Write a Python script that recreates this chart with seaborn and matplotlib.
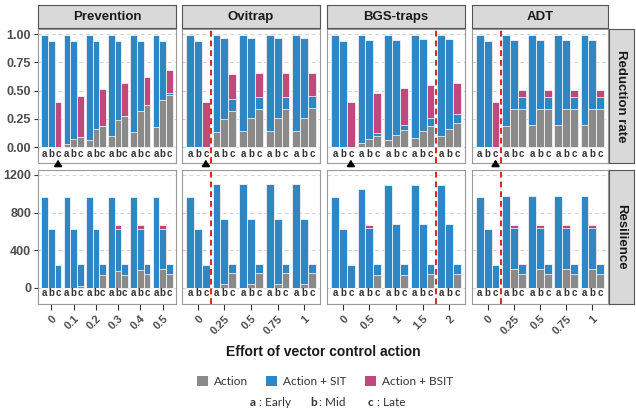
import numpy as np
import pandas as pd
import matplotlib
matplotlib.use("Agg")
import matplotlib.pyplot as plt
from matplotlib.patches import Rectangle
import seaborn as sns

# ---------------- data ----------------
panels = ["Prevention", "Ovitrap", "BGS-traps", "ADT"]
rows = ["Reduction rate", "Resilience"]
timings = ["a", "b", "c"]

efforts = {
    "Prevention": ["0", "0.1", "0.2", "0.3", "0.4", "0.5"],
    "Ovitrap": ["0", "0.25", "0.5", "0.75", "1"],
    "BGS-traps": ["0", "0.5", "1", "1.5", "2"],
    "ADT": ["0", "0.25", "0.5", "0.75", "1"],
}

# Reduction rate -------------------------------------------------
red_prev_action = {"a": [0, 0.025, 0.065, 0.10, 0.135, 0.18],
                   "b": [0, 0.075, 0.16, 0.24, 0.32, 0.42],
                   "c": [0, 0.09, 0.185, 0.275, 0.37, 0.46]}
red_prev_sit = {"a": [0.99] * 6, "b": [0.94] * 6,
                "c": [-0.01, 0.09, 0.185, 0.275, 0.37, 0.48]}
red_prev_bsit = {"a": [0.98] * 6, "b": [0.93] * 6,
                 "c": [0.40, 0.455, 0.515, 0.57, 0.625, 0.68]}

red_ovi_action = {"a": [0, 0.13, 0.14, 0.14, 0.14],
                  "b": [0, 0.25, 0.26, 0.26, 0.26],
                  "c": [0, 0.32, 0.34, 0.34, 0.35]}
red_ovi_sit = {"a": [0.99] * 5, "b": [0.94, 0.97, 0.97, 0.97, 0.97],
               "c": [-0.01, 0.43, 0.44, 0.44, 0.45]}
red_ovi_bsit = {"a": [0.98] * 5, "b": [0.93, 0.96, 0.96, 0.96, 0.96],
                "c": [0.40, 0.65, 0.66, 0.66, 0.66]}

red_bgs_action = {"a": [0, 0.04, 0.065, 0.08, 0.095],
                  "b": [0, 0.075, 0.11, 0.14, 0.16],
                  "c": [0, 0.095, 0.155, 0.19, 0.215]}
red_bgs_sit = {"a": [0.99] * 5, "b": [0.94, 0.95, 0.95, 0.96, 0.96],
               "c": [-0.01, 0.125, 0.195, 0.26, 0.29]}
red_bgs_bsit = {"a": [0.98] * 5, "b": [0.93, 0.94, 0.94, 0.95, 0.95],
                "c": [0.40, 0.48, 0.525, 0.55, 0.57]}

red_adt_action = {"a": [0, 0.19, 0.20, 0.20, 0.20],
                  "b": [0, 0.335, 0.34, 0.34, 0.34],
                  "c": [0, 0.34, 0.34, 0.34, 0.34]}
red_adt_sit = {"a": [0.99] * 5, "b": [0.94, 0.95, 0.95, 0.95, 0.95],
               "c": [-0.01, 0.44, 0.44, 0.44, 0.44]}
red_adt_bsit = {"a": [0.98] * 5, "b": [0.93, 0.94, 0.94, 0.94, 0.94],
                "c": [0.40, 0.51, 0.51, 0.51, 0.51]}

# Resilience -----------------------------------------------------
res_prev_action = {"a": [0] * 6, "b": [0, 0, 0, 185, 195, 200],
                   "c": [0, 20, 140, 140, 150, 150]}
res_prev_sit = {"a": [965] * 6, "b": [627] * 6,
                "c": [245, 250, 250, 255, 255, 260]}
res_prev_bsit = {"a": [0] * 6, "b": [0, 0, 0, 665, 665, 665],
                 "c": [0] * 6}

res_ovi_action = {"a": [0] * 5, "b": [0, 45, 45, 45, 45],
                  "c": [0, 157, 157, 157, 157]}
res_ovi_sit = {"a": [965, 1100, 1100, 1100, 1100],
               "b": [627, 732, 732, 732, 732],
               "c": [244, 257, 257, 257, 257]}
res_ovi_bsit = {"a": [0] * 5, "b": [0] * 5, "c": [0] * 5}

res_bgs_action = {"a": [0] * 5, "b": [0] * 5,
                  "c": [0, 143, 143, 150, 150]}
res_bgs_sit = {"a": [965, 1054, 1090, 1090, 1090],
               "b": [627, 632, 679, 682, 682],
               "c": [244, 250, 250, 255, 255]}
res_bgs_bsit = {"a": [0] * 5, "b": [0, 670, 0, 0, 0], "c": [0] * 5}

res_adt_action = {"a": [0] * 5, "b": [0, 204, 204, 204, 204],
                  "c": [0, 150, 150, 150, 150]}
res_adt_sit = {"a": [965, 975, 975, 975, 975],
               "b": [627, 632, 632, 632, 632],
               "c": [244, 260, 260, 260, 260]}
res_adt_bsit = {"a": [0] * 5, "b": [0, 665, 665, 665, 665], "c": [0] * 5}

series = {
    ("Reduction rate", "Prevention"): (red_prev_action, red_prev_sit, red_prev_bsit),
    ("Reduction rate", "Ovitrap"): (red_ovi_action, red_ovi_sit, red_ovi_bsit),
    ("Reduction rate", "BGS-traps"): (red_bgs_action, red_bgs_sit, red_bgs_bsit),
    ("Reduction rate", "ADT"): (red_adt_action, red_adt_sit, red_adt_bsit),
    ("Resilience", "Prevention"): (res_prev_action, res_prev_sit, res_prev_bsit),
    ("Resilience", "Ovitrap"): (res_ovi_action, res_ovi_sit, res_ovi_bsit),
    ("Resilience", "BGS-traps"): (res_bgs_action, res_bgs_sit, res_bgs_bsit),
    ("Resilience", "ADT"): (res_adt_action, res_adt_sit, res_adt_bsit),
}

# red dashed reference position (between effort groups) per panel
ref_line = {"Ovitrap": 0.5, "BGS-traps": 3.5, "ADT": 0.5}

layer_names = ["Action", "Action + SIT", "Action + BSIT"]
colors = {"Action": "#8a8a8a", "Action + SIT": "#2f86c5", "Action + BSIT": "#c2477c"}

# ---------------- style ----------------
sns.set_theme(style="white")
plt.rcParams["font.family"] = ["Liberation Sans", "DejaVu Sans"]

W, H = 636, 411
fig = plt.figure(figsize=(W / 100, H / 100), dpi=100)


def rect(x0, x1, y0, y1):
    return [x0 / W, 1 - y1 / H, (x1 - x0) / W, (y1 - y0) / H]


col_x = [(38, 176), (182, 320), (327, 465), (472, 608)]
row_y = [(28.5, 163), (170, 304)]
ylims = [(-0.14, 1.05), (-170, 1253)]
yticks = [[0, 0.25, 0.5, 0.75, 1.0], [0, 400, 800, 1200]]
yticklabels = [["0.00", "0.25", "0.50", "0.75", "1.00"], ["0", "400", "800", "1200"]]
label_y = [-0.057, -57]
txt_gray = "#4d4d4d"

for r, rowname in enumerate(rows):
    for c, pan in enumerate(panels):
        ax = fig.add_axes(rect(col_x[c][0], col_x[c][1], row_y[r][0], row_y[r][1]))
        effs = efforts[pan]
        n = len(effs)
        action, sit, bsit = series[(rowname, pan)]
        # draw order: BSIT, then SIT, then Action (overlaid bars)
        for lname, d in [("Action + BSIT", bsit), ("Action + SIT", sit), ("Action", action)]:
            recs = []
            for t in timings:
                for e, v in zip(effs, d[t]):
                    recs.append({"effort": e, "timing": t, "value": v})
            df = pd.DataFrame(recs)
            sns.barplot(data=df, x="effort", y="value", hue="timing", order=effs,
                        hue_order=timings, palette={t: colors[lname] for t in timings},
                        width=0.9, gap=0, dodge=True, errorbar=None, legend=False,
                        saturation=1, edgecolor="white", linewidth=0.5, ax=ax)
        # timing labels
        for i in range(n):
            for k, t in enumerate(timings):
                ax.text(i + (k - 1) * 0.3, label_y[r], t, ha="center", va="center",
                        fontsize=7, fontweight="bold", color="#333333")
        ax.set_xlim(-0.6, n - 0.4)
        ax.set_ylim(*ylims[r])
        ax.set_yticks(yticks[r])
        ax.set_xlabel("")
        ax.set_ylabel("")
        ax.grid(axis="y", linestyle=(0, (4, 3)), color="#d4d4d4", lw=0.7)
        ax.grid(axis="x", visible=False)
        ax.set_axisbelow(True)
        for sp in ax.spines.values():
            sp.set_color("#9a9a9a")
            sp.set_linewidth(0.8)
        if c == 0:
            ax.set_yticklabels(yticklabels[r], fontsize=9, fontweight="bold", color=txt_gray)
            ax.tick_params(axis="y", length=3, width=0.8, color="#333333", pad=2, left=True)
        else:
            ax.set_yticklabels([])
            ax.tick_params(axis="y", length=0)
        ax.set_xticks(range(n))
        if r == 1:
            ax.set_xticklabels(effs, rotation=45, ha="right", va="top", rotation_mode="anchor",
                               fontsize=8, fontweight="bold", color=txt_gray)
            ax.tick_params(axis="x", length=4, width=0.8, color="#333333", pad=3, bottom=True)
        else:
            ax.set_xticklabels([])
            ax.tick_params(axis="x", length=0)
        if pan in ref_line:
            ax.axvline(ref_line[pan], color="#e0251b", lw=1.4, linestyle=(0, (3, 2)), zorder=5)
        if r == 0:
            ax.annotate("", xy=(0.3, -0.09), xytext=(0.3, -0.165),
                        arrowprops=dict(arrowstyle="-|>,head_width=0.18,head_length=0.25",
                                        color="black", lw=1.6),
                        annotation_clip=False, zorder=6)

# strips
for c, pan in enumerate(panels):
    sax = fig.add_axes(rect(col_x[c][0], col_x[c][1], 5, 28.5))
    sax.set_facecolor("#d9d9d9")
    sax.set_xticks([]); sax.set_yticks([])
    for sp in sax.spines.values():
        sp.set_color("#555555"); sp.set_linewidth(0.8)
    sax.text(0.5, 0.5, pan, ha="center", va="center", fontsize=9.5,
             fontweight="bold", color="#1a1a1a", transform=sax.transAxes)
for r, rowname in enumerate(rows):
    sax = fig.add_axes(rect(609, 634, row_y[r][0], row_y[r][1]))
    sax.set_facecolor("#d9d9d9")
    sax.set_xticks([]); sax.set_yticks([])
    for sp in sax.spines.values():
        sp.set_color("#555555"); sp.set_linewidth(0.8)
    sax.text(0.5, 0.5, rowname, ha="center", va="center", rotation=-90, fontsize=9.5,
             fontweight="bold", color="#1a1a1a", transform=sax.transAxes)

# axis title
fig.text(323 / W, 1 - 352 / H, "Effort of vector control action", ha="center", va="center",
         fontsize=10, fontweight="bold", color="#1a1a1a")

# legend
leg_items = [("Action", 197), ("Action + SIT", 266), ("Action + BSIT", 365)]
for name, x0 in leg_items:
    fig.patches.append(Rectangle((x0 / W, 1 - 386 / H), 11 / W, 10 / H,
                                 transform=fig.transFigure, facecolor=colors[name],
                                 edgecolor="none"))
    fig.text((x0 + 17) / W, 1 - 381 / H, name, ha="left", va="center",
             fontsize=8.5, color="#333333", family=["Lato", "DejaVu Sans"])
for lab, desc, x0 in [("a", ": Early", 250), ("b", ": Mid", 310), ("c", ": Late", 368)]:
    fig.text(x0 / W, 1 - 402 / H, lab, ha="left", va="center", fontsize=8.5,
             fontweight="bold", color="#333333", family=["Lato", "DejaVu Sans"])
    fig.text((x0 + 9) / W, 1 - 402 / H, desc, ha="left", va="center", fontsize=8.5,
             color="#333333", family=["Lato", "DejaVu Sans"])

fig.savefig("out.png", dpi=100)
